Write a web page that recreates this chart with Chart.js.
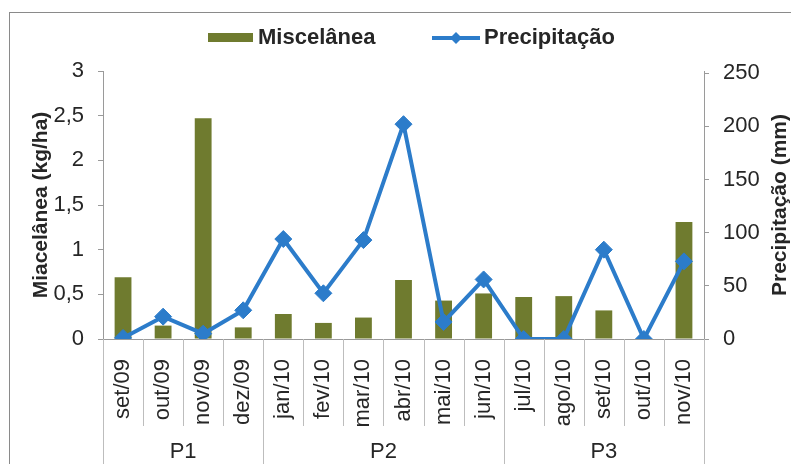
<!DOCTYPE html>
<html>
<head>
<meta charset="utf-8">
<script src="https://cdn.jsdelivr.net/npm/chart.js@4"></script>
<style>
  html, body { margin: 0; padding: 0; background: #fff; }
  #wrap { position: relative; width: 791px; height: 464px; overflow: hidden; }
</style>
</head>
<body>
<div id="wrap"><canvas id="chart" width="791" height="464"></canvas></div>
<script>
const categories = ["set/09", "out/09", "nov/09", "dez/09", "jan/10", "fev/10", "mar/10", "abr/10",
  "mai/10", "jun/10", "jul/10", "ago/10", "set/10", "out/10", "nov/10"];
const miscelanea = [0.69, 0.15, 2.47, 0.13, 0.28, 0.18, 0.24, 0.66, 0.43, 0.51, 0.47, 0.48, 0.32, 0, 1.31];
const precipitacao = [1, 21, 5, 27, 94, 43, 93, 202, 16, 56, 0, 0, 84, 0, 73];
const precipTicks = [0, 50, 100, 150, 200, 250];
const groupLabels = ["P1", "P2", "P3"];
const groupSizes = [4, 6, 5];

const barColor = "#6f7b2f";
const lineColor = "#2c7cca";
const textColor = "#262626";
const axisColor = "#9a9a9a";
const sepColor = "#bdbdbd";
const font = "Liberation Sans, Arial, sans-serif";

const extras = {
  id: "extras",
  beforeDraw(chart) {
    const ctx = chart.ctx;
    ctx.save();
    ctx.strokeStyle = "#8a8a8a";
    ctx.lineWidth = 1;
    ctx.strokeRect(9.5, 12.5, 900, 600);
    ctx.restore();
  },
  afterDraw(chart) {
    const ctx = chart.ctx;
    const x = chart.scales.x;
    const area = chart.chartArea;
    ctx.save();

    // category / group separators under the axis
    ctx.strokeStyle = sepColor;
    ctx.lineWidth = 1;
    const groupEnds = [];
    let acc = 0;
    groupSizes.forEach((n) => { acc += n; groupEnds.push(acc); });
    for (let i = 0; i <= categories.length; i++) {
      let px;
      if (i === 0) px = area.left;
      else if (i === categories.length) px = area.right;
      else px = (x.getPixelForValue(i - 1) + x.getPixelForValue(i)) / 2;
      const isGroup = i === 0 || groupEnds.includes(i);
      px = Math.round(px) + 0.5;
      ctx.beginPath();
      ctx.moveTo(px, area.bottom);
      ctx.lineTo(px, isGroup ? 470 : 426);
      ctx.stroke();
    }

    // group labels
    ctx.fillStyle = textColor;
    ctx.font = "22px " + font;
    ctx.textAlign = "center";
    ctx.textBaseline = "middle";
    let start = 0;
    groupSizes.forEach((n, g) => {
      const a = start === 0 ? area.left : (x.getPixelForValue(start - 1) + x.getPixelForValue(start)) / 2;
      const endIdx = start + n;
      const b = endIdx === categories.length ? area.right : (x.getPixelForValue(endIdx - 1) + x.getPixelForValue(endIdx)) / 2;
      ctx.fillText(groupLabels[g], (a + b) / 2, 452);
      start = endIdx;
    });

    // axis titles
    const midY = (area.top + area.bottom) / 2;
    ctx.font = "bold 21px " + font;
    ctx.save();
    ctx.translate(41, midY);
    ctx.rotate(-Math.PI / 2);
    ctx.fillText("Miacelânea (kg/ha)", 0, 0);
    ctx.restore();
    ctx.save();
    ctx.translate(780, midY);
    ctx.rotate(-Math.PI / 2);
    ctx.fillText("Precipitação (mm)", 0, 0);
    ctx.restore();

    // legend
    ctx.font = "bold 22px " + font;
    ctx.fillStyle = barColor;
    ctx.fillRect(208, 33, 45, 9);
    ctx.fillStyle = textColor;
    ctx.textAlign = "left";
    ctx.fillText("Miscelânea", 258, 38);
    ctx.strokeStyle = lineColor;
    ctx.lineWidth = 4;
    ctx.beginPath();
    ctx.moveTo(432, 38);
    ctx.lineTo(480, 38);
    ctx.stroke();
    ctx.fillStyle = lineColor;
    ctx.beginPath();
    ctx.moveTo(456, 32);
    ctx.lineTo(462, 38);
    ctx.lineTo(456, 44);
    ctx.lineTo(450, 38);
    ctx.closePath();
    ctx.fill();
    ctx.fillStyle = textColor;
    ctx.fillText("Precipitação", 484, 38);
    ctx.restore();
  }
};

new Chart(document.getElementById("chart"), {
  data: {
    labels: categories,
    datasets: [
      {
        type: "line",
        label: "Precipitação",
        data: precipitacao,
        yAxisID: "y2",
        borderColor: lineColor,
        backgroundColor: lineColor,
        borderWidth: 4,
        pointStyle: "rectRot",
        pointRadius: 8.5,
        pointBorderWidth: 1,
        tension: 0,
        order: 0,
      },
      {
        type: "bar",
        label: "Miscelânea",
        data: miscelanea,
        yAxisID: "y",
        backgroundColor: barColor,
        categoryPercentage: 1,
        barPercentage: 0.42,
        order: 1,
      },
    ],
  },
  options: {
    responsive: false,
    animation: false,
    events: [],
    layout: { padding: { top: 71, left: 0, right: 0, bottom: 0 } },
    plugins: { legend: { display: false }, tooltip: { enabled: false } },
    scales: {
      x: {
        offset: true,
        grid: { display: false },
        border: { color: axisColor },
        ticks: {
          minRotation: 90,
          maxRotation: 90,
          autoSkip: false,
          padding: 12,
          color: textColor,
          font: { family: font, size: 22 },
        },
        afterFit: (s) => { s.height = 125; },
      },
      y: {
        position: "left",
        min: 0,
        max: 3,
        ticks: {
          stepSize: 0.5,
          padding: 14,
          color: textColor,
          font: { family: font, size: 22 },
          callback: (v) => String(v).replace(".", ","),
        },
        grid: { drawOnChartArea: false, tickLength: 5, color: axisColor },
        border: { color: axisColor },
        afterFit: (s) => { s.width = 103; },
      },
      y2: {
        position: "right",
        min: 0,
        max: 252,
        afterBuildTicks: (s) => { s.ticks = precipTicks.map((v) => ({ value: v })); },
        ticks: {
          padding: 14,
          color: textColor,
          font: { family: font, size: 22 },
        },
        grid: { drawOnChartArea: false, tickLength: 5, color: axisColor },
        border: { color: axisColor },
        afterFit: (s) => { s.width = 87; },
      },
    },
  },
  plugins: [extras],
});
</script>
</body>
</html>
